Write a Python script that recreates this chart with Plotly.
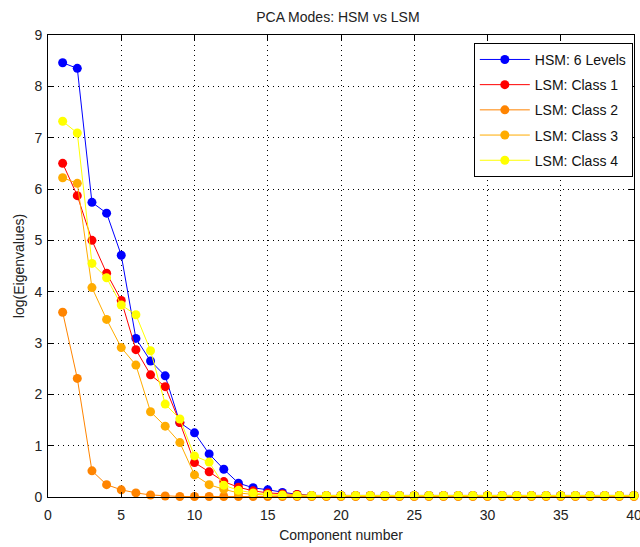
import plotly.graph_objects as go

# Component indices and log-eigenvalue spectra for each model
components = list(range(1, 41))

hsm_6_levels = [8.46, 8.35, 5.74, 5.53, 4.71, 3.09, 2.65, 2.36, 1.45, 1.25,
                0.84, 0.54, 0.27, 0.18, 0.14, 0.09, 0.05] + [0.03] * 23
lsm_class1 = [6.50, 5.87, 5.00, 4.36, 3.83, 2.87, 2.38, 2.15, 1.45, 0.67,
              0.49, 0.30, 0.19, 0.12, 0.08, 0.06, 0.05] + [0.03] * 23
lsm_class2 = [3.60, 2.31, 0.51, 0.24, 0.14, 0.08, 0.04, 0.02, 0.01, 0.01,
              0.01, 0.01, 0.01, 0.01, 0.01, 0.01, 0.01] + [0.01] * 23
lsm_class3 = [6.22, 6.11, 4.08, 3.46, 2.91, 2.57, 1.66, 1.38, 1.06, 0.43,
              0.24, 0.15, 0.08, 0.05, 0.04, 0.03, 0.03] + [0.02] * 23
lsm_class4 = [7.32, 7.09, 4.55, 4.27, 3.74, 3.55, 2.85, 1.81, 1.52, 0.80,
              0.68, 0.23, 0.13, 0.08, 0.05, 0.04, 0.03] + [0.03] * 23

series_names = ["HSM: 6 Levels", "LSM: Class 1", "LSM: Class 2",
                "LSM: Class 3", "LSM: Class 4"]
series_values = [hsm_6_levels, lsm_class1, lsm_class2, lsm_class3, lsm_class4]
series_colors = ["#0000ff", "#ff0000", "#ff8400", "#ffac00", "#ffff00"]

x_ticks = list(range(0, 41, 5))
y_ticks = list(range(0, 10))

font_family = "Liberation Sans, Arial, sans-serif"
text_color = "#222222"

fig = go.Figure()
for i, (name, vals, col) in enumerate(zip(series_names, series_values, series_colors)):
    fig.add_trace(go.Scatter(
        x=components, y=vals, name=name, mode="lines+markers",
        line=dict(color=col, width=1),
        marker=dict(color=col, size=9, line=dict(width=0)),
        cliponaxis=False, legendgroup=f"g{i}",
    ))

axis_common = dict(
    showline=True, linecolor="#000000", linewidth=1, mirror="ticks",
    ticks="inside", ticklen=5, tickcolor="#000000",
    showgrid=True, gridcolor="#000000", gridwidth=1, griddash="1px,4px",
    zeroline=False, layer="above traces", automargin=False,
    tickfont=dict(family=font_family, size=14, color=text_color),
    ticklabeloverflow="allow",
)

fig.update_layout(
    width=640, height=547,
    margin=dict(l=48, r=6, t=35, b=50, autoexpand=False),
    paper_bgcolor="white", plot_bgcolor="white",
    title=dict(text="PCA Modes: HSM vs LSM", x=0.528, xanchor="center",
               y=0.969, yanchor="middle",
               font=dict(family=font_family, size=14, color=text_color)),
    xaxis=dict(range=[0, 40], tickvals=x_ticks, ticklabelstandoff=5,
               title=dict(text="Component number", standoff=8,
                          font=dict(family=font_family, size=14, color=text_color)),
               **axis_common),
    yaxis=dict(range=[0, 9], tickvals=y_ticks, ticklabelstandoff=2,
               title=dict(text="log(Eigenvalues)", standoff=6,
                          font=dict(family=font_family, size=14, color=text_color)),
               **axis_common),
    legend=dict(x=0.998, xanchor="right", y=0.983, yanchor="top",
                bgcolor="white", bordercolor="#000000", borderwidth=1,
                font=dict(family=font_family, size=14, color="#111111"),
                traceorder="grouped", tracegroupgap=4, itemwidth=50),
    showlegend=True,
)

fig.write_html("out.html")
